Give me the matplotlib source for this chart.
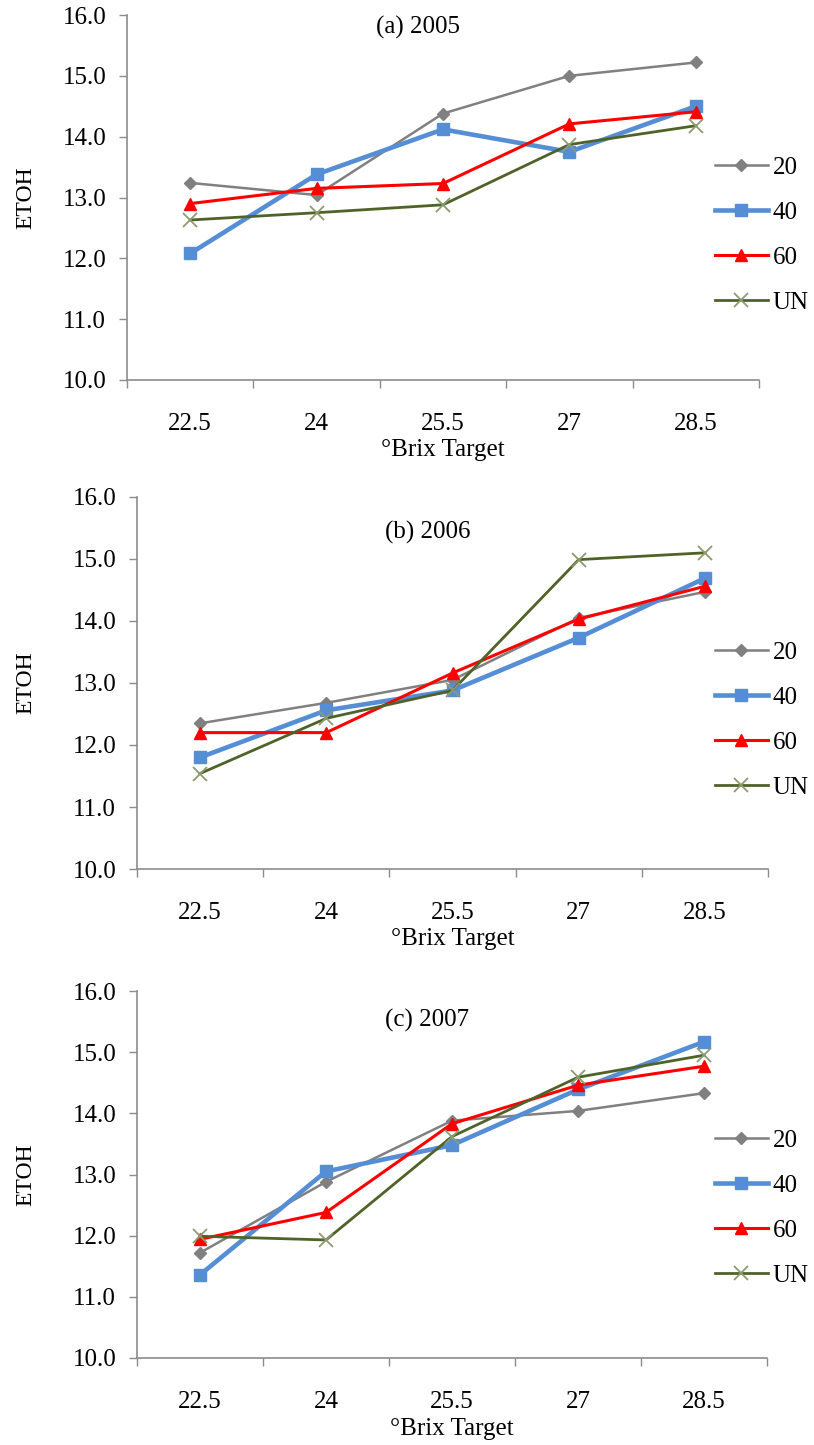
import numpy as np
import matplotlib.pyplot as plt
from matplotlib import transforms

plt.rcParams['font.family'] = ['Liberation Serif', 'DejaVu Serif']

brix = ['22.5', '24', '25.5', '27', '28.5']
series = ['20', '40', '60', 'UN']

# ETOH by year, one list per treatment
etoh_2005 = {
    '20': [13.24, 13.04, 14.38, 15.00, 15.22],
    '40': [12.08, 13.38, 14.12, 13.75, 14.50],
    '60': [12.90, 13.15, 13.23, 14.21, 14.41],
    'UN': [12.63, 12.75, 12.88, 13.87, 14.18],
}
etoh_2006 = {
    '20': [12.35, 12.68, 13.05, 14.05, 14.47],
    '40': [11.80, 12.56, 12.88, 13.73, 14.69],
    '60': [12.20, 12.20, 13.16, 14.03, 14.56],
    'UN': [11.54, 12.43, 12.88, 14.99, 15.10],
}
etoh_2007 = {
    '20': [11.72, 12.88, 13.88, 14.04, 14.33],
    '40': [11.36, 13.05, 13.48, 14.39, 15.17],
    '60': [11.94, 12.38, 13.83, 14.46, 14.77],
    'UN': [11.99, 11.93, 13.62, 14.59, 14.95],
}
titles = ['(a) 2005', '(b) 2006', '(c) 2007']
years = [etoh_2005, etoh_2006, etoh_2007]

styles = {
    '20': dict(color='#808080', lw=1.8, marker='D', ms=6.5, mfc='#808080', mec='#808080'),
    '40': dict(color='#558ed5', lw=3.3, marker='s', ms=9, mfc='#558ed5', mec='#558ed5'),
    '60': dict(color='#ff0000', lw=2.2, marker='^', ms=8.5, mfc='#ff0000', mec='#ff0000'),
    'UN': dict(color='#4f6228', lw=2.0, marker='x', ms=10, mec='#8c9c70', mew=1.3),
}

W, H = 814, 1445
# axes boxes in pixels: left, right, top (y=16), bottom (y=10)
boxes = [(127, 759, 15, 380), (137, 768, 497, 869), (137, 767, 991, 1358)]
title_y = [0.967, 0.906, 0.921]
legend_y = [235, 720, 1208]
fs = 18

fig = plt.figure(figsize=(W / 100, H / 100), dpi=100)
axis_col = '#8c8c8c'

for k in range(3):
    l, r, t, b = boxes[k]
    ax = fig.add_axes([l / W, 1 - b / H, (r - l) / W, (b - t) / H])
    x = np.arange(len(brix))
    for s in series:
        ax.plot(x, years[k][s], label=s, **styles[s])

    ax.set_xlim(-0.5, len(brix) - 0.5)
    ax.set_ylim(10, 16)
    ax.set_yticks(np.arange(10, 16.1, 1))
    ax.set_yticklabels(['%.1f' % v for v in np.arange(10, 16.1, 1)])
    ax.set_xticks(x)
    ax.set_xticklabels(brix)
    ax.set_xticks(np.arange(-0.5, len(brix)), minor=True)
    ax.tick_params(axis='x', which='major', length=0, pad=24, labelsize=fs)
    ax.tick_params(axis='x', which='minor', length=6, width=1, color=axis_col, direction='out')
    ax.tick_params(axis='y', length=6, width=1, color=axis_col, direction='out', pad=9, labelsize=fs)

    for side in ['top', 'right']:
        ax.spines[side].set_visible(False)
    for side in ['left', 'bottom']:
        ax.spines[side].set_color(axis_col)
        ax.spines[side].set_linewidth(1.2)

    ax.set_ylabel('ETOH', fontsize=17)
    ax.yaxis.set_label_coords(36 / W, 0.5,
                              transform=transforms.blended_transform_factory(fig.transFigure, ax.transAxes))
    ax.set_xlabel('\u00b0Brix Target', fontsize=fs, labelpad=3)

    ax.text(0.46, title_y[k], titles[k], transform=ax.transAxes,
            ha='center', va='center', fontsize=fs)

    ax.legend(loc='center left', bbox_to_anchor=(715 / W, 1 - legend_y[k] / H),
              bbox_transform=fig.transFigure, frameon=False, fontsize=fs,
              handlelength=2.1, handletextpad=0.2, labelspacing=0.9,
              borderpad=0, borderaxespad=0, numpoints=1)

plt.savefig('out.png', dpi=100)
